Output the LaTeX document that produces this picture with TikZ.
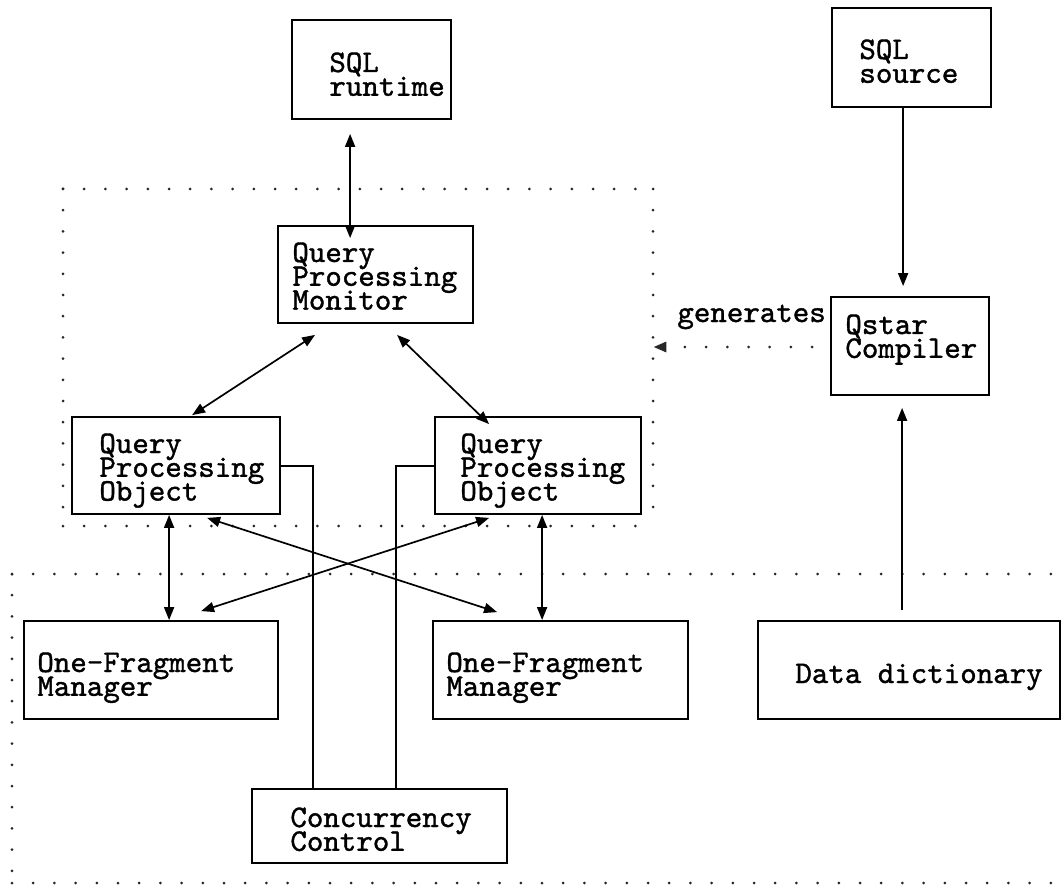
\documentclass[tikz,border=0pt]{standalone}
\usepackage{fontspec}
\newfontfamily\ttx{lmmono10-regular.otf}[FakeBold=1.2]
\usetikzlibrary{arrows.meta,fit,calc}
\newcommand\ml[1]{\vtop{\baselineskip=11.9pt\lineskiplimit=-100pt\lineskip=0pt\halign{##\hfil\cr#1\crcr}}}
\begin{document}
\begin{tikzpicture}[x=0.5pt,y=-0.5pt,
  box/.style={draw=black,line width=0.9pt,inner sep=0pt,rectangle},
  txt/.style={font=\ttx\fontsize{15.7}{11.9}\selectfont,inner sep=0pt,anchor=base west},
  conn/.style={draw=black,line width=0.85pt},
  tip/.style={-{Triangle[length=6.5pt,width=5pt]}},
  tips/.style={{Triangle[length=6.5pt,width=5pt]}-{Triangle[length=6.5pt,width=5pt]}},
  dots/.style={draw=black!85,line width=1.5pt,line cap=round,dash pattern=on 0pt off 10.6pt}]
\useasboundingbox (0,0) rectangle (1064,887);

% dotted regions
\coordinate (uNW) at (63,189);
\coordinate (uSE) at (653,526);
\draw[dots] (uNW) -- (uNW -| uSE);
\draw[dots] (uNW) -- (uNW |- uSE);
\draw[dots] (uNW -| uSE) -- (uSE);
\draw[dots] (uNW |- uSE) -- (uSE);
\node[inner sep=0pt,fit=(uNW)(uSE)] (up) {};
\coordinate (lNW) at (12,574);
\coordinate (lSW) at (12,883);
\draw[dots] (lNW) -- ++(1050,0);
\draw[dots] (lNW) -- (lSW);
\draw[dots] (lSW) -- ++(1050,0);

% boxes
\node[box,fit={(292,20) (451,119)}] (rt) {};
\node[box,fit={(832,8) (991,107)}] (src) {};
\node[box,fit={(278,226) (473,323)}] (qpm) {};
\node[box,fit={(72,417) (280,514)}] (qpoL) {};
\node[box,fit={(435,417) (641,514)}] (qpoR) {};
\node[box,fit={(831,297) (989,395)}] (qc) {};
\node[box,fit={(24,621) (278,719)}] (ofmL) {};
\node[box,fit={(433,621) (688,719)}] (ofmR) {};
\node[box,fit={(758,621) (1060,719)}] (dd) {};
\node[box,fit={(252,789) (507,863)}] (cc) {};

% texts
\node[txt] (trt) at (329,72) {\ml{SQL\cr runtime}};
\node[txt] (tsrc) at (859,59) {\ml{SQL\cr source}};
\node[txt] (tqpm) at (292,262) {\ml{Query\cr Processing\cr Monitor}};
\node[txt] (tqpoL) at (99,453) {\ml{Query\cr Processing\cr Object}};
\node[txt] (tqpoR) at (460,453) {\ml{Query\cr Processing\cr Object}};
\node[txt] (tqc) at (845,334) {\ml{Qstar\cr Compiler}};
\node[txt] (tofmL) at (37,672) {\ml{One-Fragment\cr Manager}};
\node[txt] (tofmR) at (446,672) {\ml{One-Fragment\cr Manager}};
\node[txt] (tdd) at (795,683) {Data dictionary};
\node[txt] (tcc) at (290,827) {\ml{Concurrency\cr Control}};
\node[txt] (tgen) at (677,322) {generates};

% connectors
\draw[conn,tips] ($(rt.south west)+(59,14)$) -- ($(qpm.north west)+(73,13)$);
\draw[conn,tip] ($(src.south west)+(72,0)$) -- ($(qc.north west)+(73,-10)$);
\draw[conn,tip] ($(dd.north west)+(145,-10)$) -- ($(qc.south west)+(72,12)$);
\draw[dots,-{Triangle[length=6.5pt,width=5pt]}] ($(qc.west)+(-18,1)$) -- ($(up.east |- qc.west)+(0,1)$);
\draw[conn,tips] ($(qpm.south west)+(38,11)$) -- ($(qpoL.north west)+(121,-1)$);
\draw[conn,tips] ($(qpm.south west)+(120,11)$) -- ($(qpoR.north west)+(55,8)$);
\draw[conn,tips] ($(qpoL.south west)+(98,0)$) -- ($(ofmL.north west)+(146,0)$);
\draw[conn,tips] ($(qpoR.south west)+(108,0)$) -- ($(ofmR.north west)+(110,0)$);
\draw[conn,tips] ($(qpoL.south west)+(136,3)$) -- ($(ofmR.north west)+(65,-8)$);
\draw[conn,tips] ($(qpoR.south west)+(55,3)$) -- ($(ofmL.north west)+(178,-9)$);
\draw[conn] ($(qpoL.north east)+(0,50)$) -| ($(cc.north west)+(62,0)$);
\draw[conn] ($(qpoR.north west)+(0,50)$) -| ($(cc.north west)+(145,0)$);
\end{tikzpicture}
\end{document}
